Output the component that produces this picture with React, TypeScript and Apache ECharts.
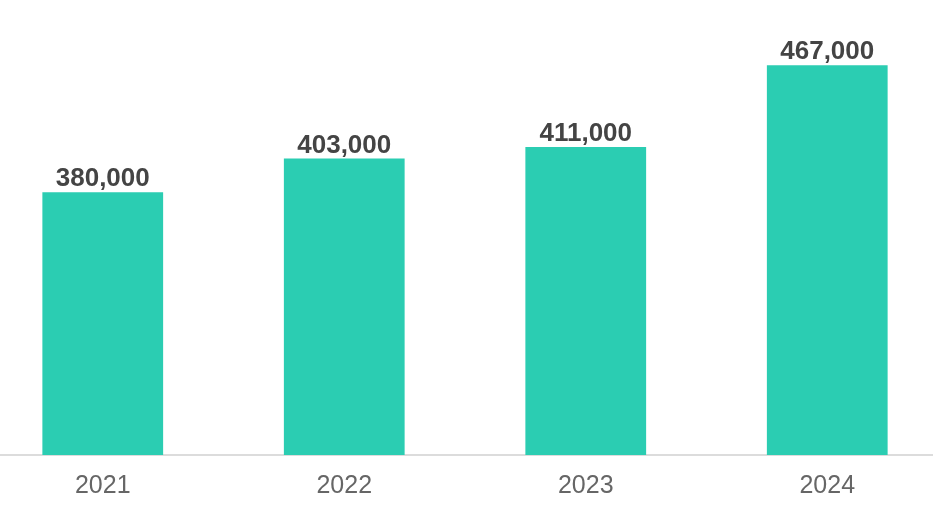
import { useEffect, useRef } from "react";
import * as echarts from "echarts";

const years = ["2021", "2022", "2023", "2024"];
const values = [380000, 403000, 411000, 467000];

export default function App() {
  const chartRef = useRef<HTMLDivElement>(null);

  useEffect(() => {
    if (!chartRef.current) return;
    const chart = echarts.init(chartRef.current, undefined, { renderer: "svg" });
    chart.setOption({
      animation: false,
      grid: { left: 0, right: 0, top: 17, bottom: 73, containLabel: false },
      xAxis: {
        type: "category",
        data: years,
        axisTick: { show: false },
        axisLine: { lineStyle: { color: "#dcdcdc", width: 2 } },
        axisLabel: {
          color: "#666666",
          fontSize: 25,
          fontFamily: "Liberation Sans, Arial, sans-serif",
          margin: 16,
        },
      },
      yAxis: {
        type: "value",
        min: 200000,
        max: 500000,
        show: false,
        splitLine: { show: false },
      },
      series: [
        {
          type: "bar",
          data: values,
          barWidth: "50%",
          itemStyle: { color: "#2bcdb2" },
          label: {
            show: true,
            position: "top",
            distance: 2,
            color: "#444444",
            fontSize: 26,
            fontWeight: "bold",
            fontFamily: "Liberation Sans, Arial, sans-serif",
            formatter: (p: any) => Number(p.value).toLocaleString("en-US"),
          },
        },
      ],
    });
    return () => chart.dispose();
  }, []);

  return (
    <div style={{ position: "fixed", left: 0, top: 0, width: 933, height: 528, overflow: "hidden" }}>
      <div
        ref={chartRef}
        style={{ position: "absolute", left: -18, top: 0, width: 966, height: 528 }}
      />
    </div>
  );
}
